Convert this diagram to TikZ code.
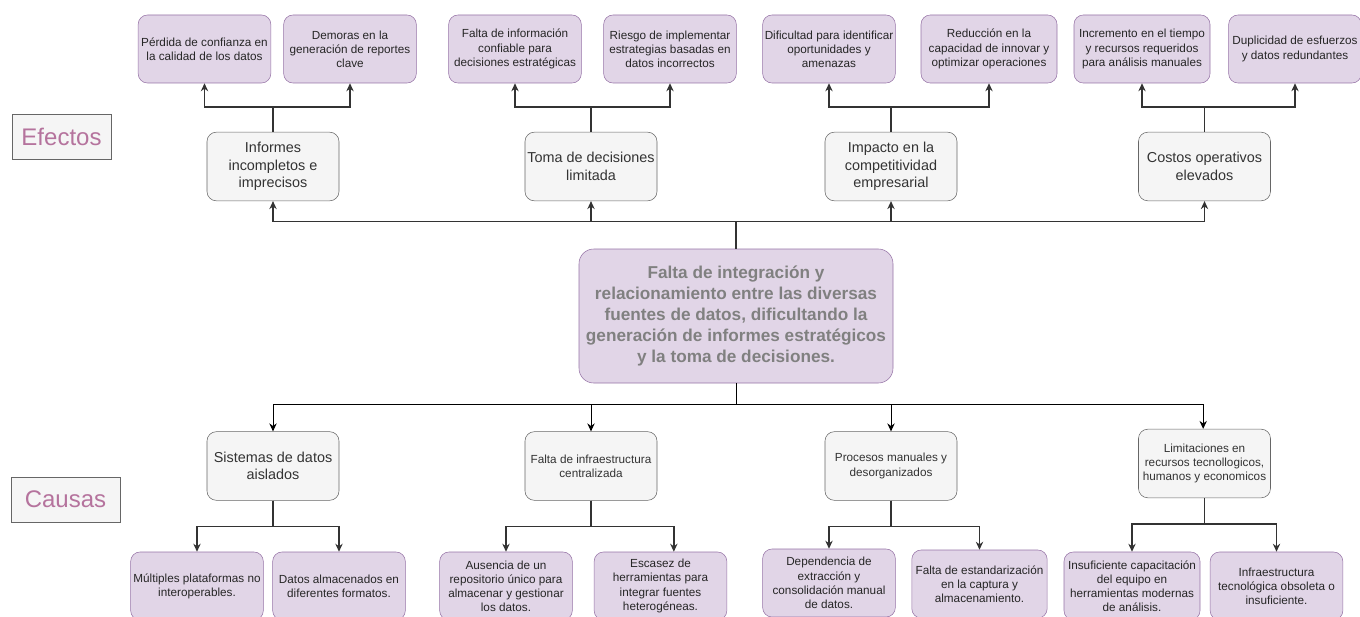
\documentclass[tikz,border=0pt]{standalone}
\usepackage{fontspec}
\setmainfont{Liberation Sans}
\usetikzlibrary{arrows.meta}
\definecolor{lila}{HTML}{E1D5E7}
\definecolor{lilaborde}{HTML}{9673A6}
\definecolor{gris}{HTML}{F5F5F5}
\definecolor{grisborde}{HTML}{666666}
\definecolor{texto}{HTML}{333333}
\definecolor{rosa}{HTML}{B5739D}
\begin{document}
\begin{tikzpicture}[x=0.75pt, y=-0.75pt,
      every node/.style={align=center, inner sep=1pt},
      detalle/.style={draw=lilaborde, fill=lila, rounded corners=7pt,
        minimum width=99.5pt, minimum height=51pt, text=black!85,
        font=\fontsize{8.8}{10.6}\selectfont},
      efecto/.style={draw=grisborde, fill=gris, rounded corners=7pt,
        minimum width=99pt, minimum height=51.5pt, text=texto,
        font=\fontsize{10.8}{13}\selectfont},
      causa/.style={efecto},
      problema/.style={draw=lilaborde, fill=lila, rounded corners=11pt,
        minimum width=235.5pt, minimum height=100.5pt, text=black!50,
        font=\fontsize{12.9}{15.6}\selectfont\bfseries},
      etiqueta/.style={draw=grisborde, fill=gris, text=rosa,
        minimum height=33.75pt, font=\fontsize{18}{20}\selectfont},
      flecha/.style={draw=texto, line width=1pt, -{Stealth[length=6pt,width=5.5pt]}},
      flechafina/.style={draw=black, line width=0.75pt, -{Stealth[length=6pt,width=5.5pt]}}]
    \useasboundingbox (0,0) rectangle (1360,617);

    % Problem
    \node[problema] (PROB) at (736,316) {Falta de integración y\\relacionamiento entre las diversas\\fuentes de datos, dificultando la\\generación de informes estratégicos\\y la toma de decisiones.};

    % Side labels
    \node[etiqueta, minimum width=74.25pt] (LEF) at (61.5,136.5) {Efectos};
    \node[etiqueta, minimum width=81.75pt] (LCA) at (65.5,499.5) {Causas};

    % Effects
    \node[efecto] (EF1) at (273,166.5) {Informes\\incompletos e\\imprecisos};
    \node[efecto] (EF2) at (591,166.5) {Toma de decisiones\\limitada};
    \node[efecto] (EF3) at (891,166.5) {Impacto en la\\competitividad\\empresarial};
    \node[efecto] (EF4) at (1204.5,166.5) {Costos operativos\\elevados};

    % Effect details
    \node[detalle] (EF1A) at (204.5,49) {Pérdida de confianza en\\la calidad de los datos};
    \node[detalle] (EF1B) at (350,49) {Demoras en la\\generación de reportes\\clave};
    \node[detalle] (EF2A) at (515,49) {Falta de información\\confiable para\\decisiones estratégicas};
    \node[detalle] (EF2B) at (670,49) {Riesgo de implementar\\estrategias basadas en\\datos incorrectos};
    \node[detalle] (EF3A) at (829,49) {Dificultad para identificar\\oportunidades y\\amenazas};
    \node[detalle, minimum width=102pt] (EF3B) at (989,49) {Reducción en la\\capacidad de innovar y\\optimizar operaciones};
    \node[detalle, minimum width=102pt] (EF4A) at (1142,49) {Incremento en el tiempo\\y recursos requeridos\\para análisis manuales};
    \node[detalle] (EF4B) at (1295,49) {Duplicidad de esfuerzos\\y datos redundantes};

    % Causes
    \node[causa] (CA1) at (273,466) {Sistemas de datos\\aislados};
    \node[causa, font=\fontsize{8.8}{10.6}\selectfont] (CA2) at (591,466) {Falta de infraestructura\\centralizada};
    \node[causa, font=\fontsize{8.8}{10.6}\selectfont] (CA3) at (891,466) {Procesos manuales y\\desorganizados};
    \node[causa, font=\fontsize{8.8}{10.6}\selectfont] (CA4) at (1204.5,463.5) {Limitaciones en\\recursos tecnollogicos,\\humanos y economicos};

    % Cause details (cut by the lower edge)
    \node[detalle] (CA1A) at (197,586) {Múltiples plataformas no\\interoperables.};
    \node[detalle] (CA1B) at (339,586) {Datos almacenados en\\diferentes formatos.};
    \node[detalle] (CA2A) at (506,586) {Ausencia de un\\repositorio único para\\almacenar y gestionar\\los datos.};
    \node[detalle] (CA2B) at (660.5,586) {Escasez de\\herramientas para\\integrar fuentes\\heterogéneas.};
    \node[detalle] (CA3A) at (829,583) {Dependencia de\\extracción y\\consolidación manual\\de datos.};
    \node[detalle, minimum width=101.5pt] (CA3B) at (979.5,584) {Falta de estandarización\\en la captura y\\almacenamiento.};
    \node[detalle, minimum width=102pt] (CA4A) at (1132,586) {Insuficiente capacitación\\del equipo en\\herramientas modernas\\de análisis.};
    \node[detalle] (CA4B) at (1276.5,586) {Infraestructura\\tecnológica obsoleta o\\insuficiente.};

    % Problem to effects
    \draw[flecha] (PROB.north) -- ++(0,-27) -| (EF1.south);
    \draw[flecha] (PROB.north) -- ++(0,-27) -| (EF2.south);
    \draw[flecha] (PROB.north) -- ++(0,-27) -| (EF3.south);
    \draw[flecha] (PROB.north) -- ++(0,-27) -| (EF4.south);

    % Effects to details
    \draw[flecha] (EF1.north) -- ++(0,-25) -| (EF1A.south);
    \draw[flecha] (EF1.north) -- ++(0,-25) -| (EF1B.south);
    \draw[flecha] (EF2.north) -- ++(0,-25) -| (EF2A.south);
    \draw[flecha] (EF2.north) -- ++(0,-25) -| (EF2B.south);
    \draw[flecha] (EF3.north) -- ++(0,-25) -| (EF3A.south);
    \draw[flecha] (EF3.north) -- ++(0,-25) -| (EF3B.south);
    \draw[flecha] (EF4.north) -- ++(0,-25) -| (EF4A.south);
    \draw[flecha] (EF4.north) -- ++(0,-25) -| (EF4B.south);

    % Problem to causes
    \draw[flechafina] (PROB.south) -- ++(0,21) -| (CA1.north);
    \draw[flechafina] (PROB.south) -- ++(0,21) -| (CA2.north);
    \draw[flechafina] (PROB.south) -- ++(0,21) -| (CA3.north);
    \draw[flechafina] (PROB.south) -- ++(0,21) -| ([xshift=-1pt]CA4.north);

    % Causes to details
    \draw[flecha] (CA1.south) -- ++(0,26) -| (CA1A.north);
    \draw[flecha] (CA1.south) -- ++(0,26) -| (CA1B.north);
    \draw[flecha] (CA2.south) -- ++(0,26) -| (CA2A.north);
    \draw[flecha] (CA2.south) -- ++(0,26) -| ([xshift=10pt]CA2B.north);
    \draw[flecha] (CA3.south) -- ++(0,26) -| (CA3A.north);
    \draw[flecha] (CA3.south) -- ++(0,26) -| (CA3B.north);
    \draw[flecha] (CA4.south) -- ++(0,26) -| (CA4A.north);
    \draw[flecha] (CA4.south) -- ++(0,26) -| (CA4B.north);
  \end{tikzpicture}
\end{document}
